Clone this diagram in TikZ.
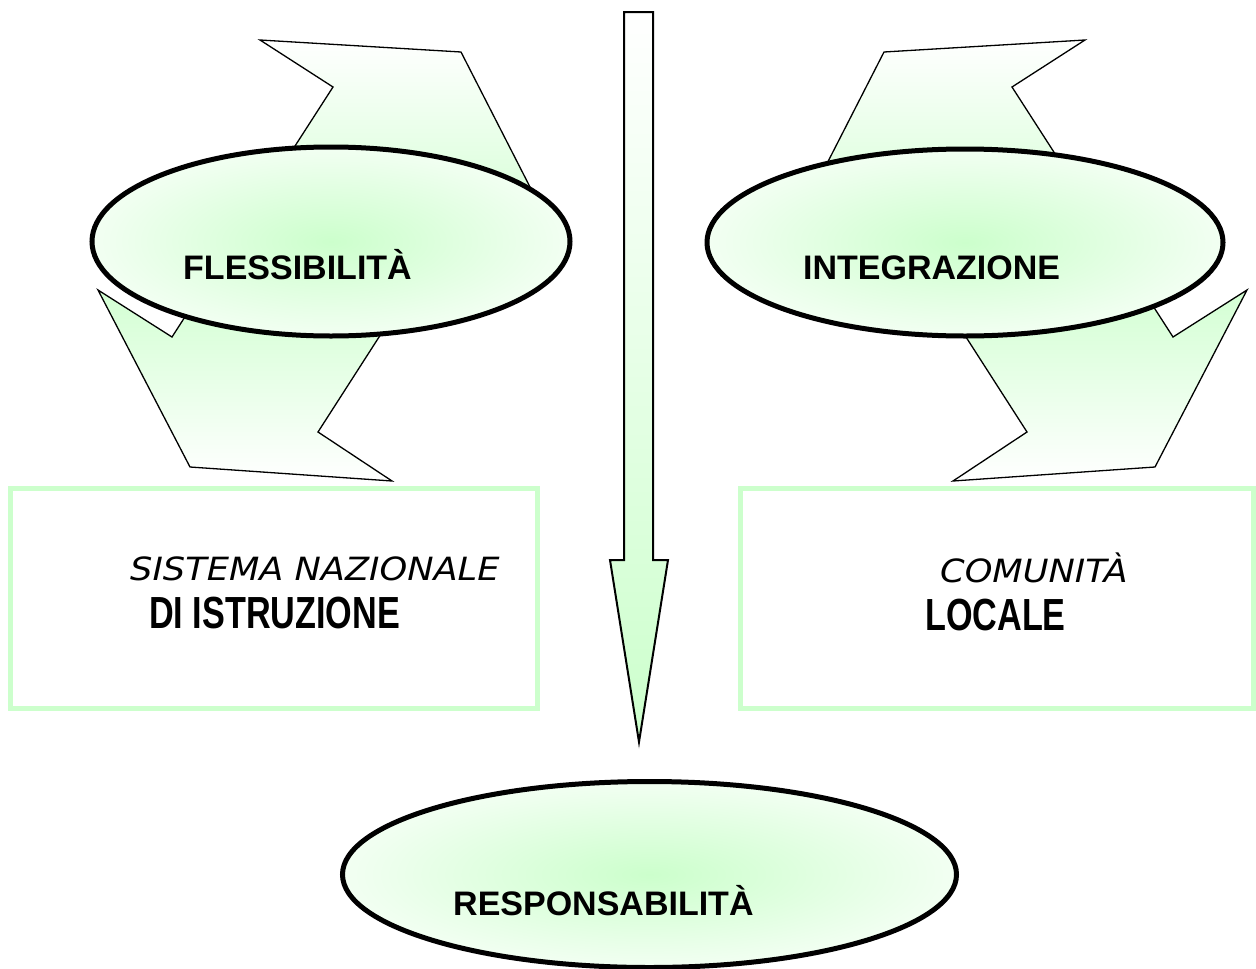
\documentclass[tikz,border=0pt]{standalone}
\usepackage{fontspec}
\setmainfont{Liberation Sans}
\newfontfamily\narrowfont[FakeStretch=0.76]{Liberation Sans}
\newfontfamily\wideital[FakeStretch=1.1]{DejaVu Sans}
\usetikzlibrary{shapes.geometric}
\definecolor{softgreen}{RGB}{204,255,204}

\begin{document}
\begin{tikzpicture}[x=1pt,y=-1pt,
        bubble/.style={
          ellipse, draw=black, line width=5pt, inner sep=0pt,
          inner color=softgreen, outer color=softgreen!25,
        },
        zig/.style={draw=black, line width=1.3pt,
          top color=white, bottom color=white, middle color=softgreen},
        panel/.style={draw=softgreen, line width=5pt, inner sep=0pt},
        bigword/.style={anchor=base west, inner sep=0pt,
          font=\fontsize{34}{40}\selectfont\bfseries},
        itword/.style={anchor=base west, inner sep=0pt,
          font=\wideital\fontsize{32}{38}\selectfont\itshape},
        narrowword/.style={anchor=base west, inner sep=0pt,
          font=\narrowfont\fontsize{45}{52}\selectfont\bfseries},
      ]
      \useasboundingbox (0,0) rectangle (1256,969);
      % zig-zag arrows
      \draw[zig] (260,40) -- (461,52) -- (552,230) -- (478,183) -- (318,432) -- (392,481)
        -- (190,467) -- (98,290) -- (172,337) -- (333,87) -- cycle;
      \draw[zig] (1085,40) -- (884,52) -- (793,230) -- (867,183) -- (1027,432) -- (953,481)
        -- (1155,467) -- (1247,290) -- (1173,337) -- (1012,87) -- cycle;
      % down arrow
      \draw[line width=2pt, top color=white, bottom color=softgreen]
        (624,12) -- (653,12) -- (653,560) -- (668,560) -- (639,742)
        -- (610,560) -- (624,560) -- cycle;
      \node[bubble, minimum width=478pt, minimum height=189pt] (flex) at (331,241.5) {};
      \node[bubble, minimum width=516pt, minimum height=187pt] (integr) at (965,242.5) {};
      \node[bubble, minimum width=614pt, minimum height=186pt] (resp) at (649.5,874.5) {};
      \node[bigword] (flexlabel) at (183,279) {FLESSIBILITÀ};
      \node[bigword] (integrlabel) at (803,279) {INTEGRAZIONE};
      \node[bigword] (resplabel) at (453,915) {RESPONSABILITÀ};
      \node[panel, minimum width=527pt, minimum height=220pt] (sni) at (274,598) {};
      \node[panel, minimum width=513pt, minimum height=220pt] (comloc) at (997,598) {};
      \node[itword] (snitop) at (130,580) {SISTEMA NAZIONALE};
      \node[narrowword] (snibot) at (149,628) {DI ISTRUZIONE};
      \node[itword] (comtop) at (940,582) {COMUNITÀ};
      \node[narrowword] (combot) at (925,630) {LOCALE};
    \end{tikzpicture}
\end{document}
